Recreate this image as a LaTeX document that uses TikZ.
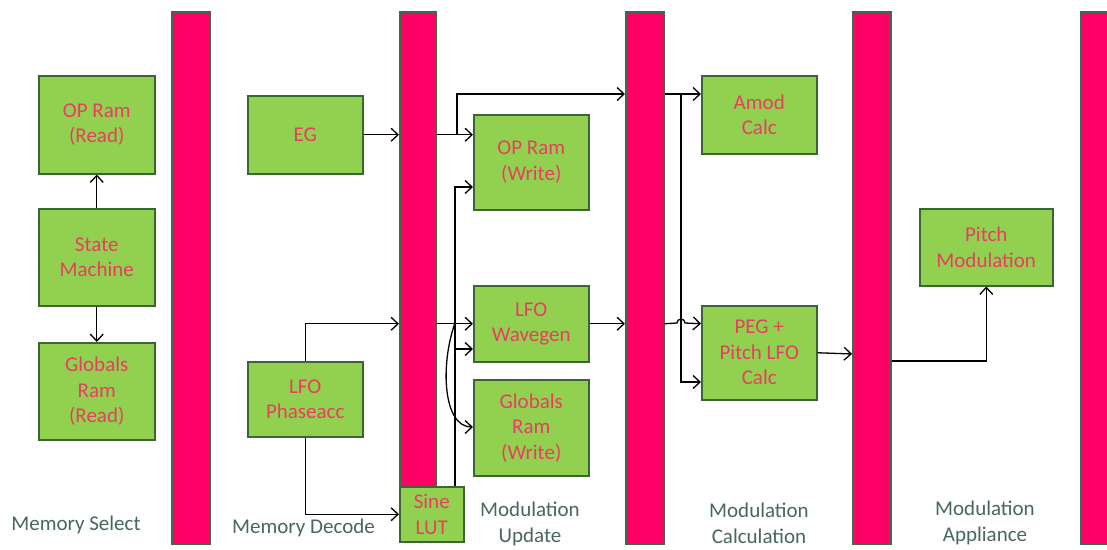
\documentclass[tikz,border=0pt]{standalone}
\usepackage{fontspec}
\setmainfont{Carlito}
\usetikzlibrary{arrows.meta}
\definecolor{boxfill}{HTML}{92D050}
\definecolor{boxline}{HTML}{3B6535}
\definecolor{barfill}{HTML}{FF0066}
\definecolor{barline}{HTML}{3F6A48}
\definecolor{boxtext}{RGB}{232,62,96}
\definecolor{labeltext}{RGB}{72,104,88}
\begin{document}
\begin{tikzpicture}[x=1pt,y=-1pt,
  blk/.style={draw=boxline, line width=1.5pt, fill=boxfill, text=boxtext, align=center,
    font=\fontsize{21}{25.5}\selectfont, inner sep=0pt, anchor=north west},
  barbox/.style={draw=barline, line width=1.5pt, fill=barfill, inner sep=0pt, anchor=north west, minimum width=38pt},
  lbl/.style={text=labeltext, align=center, font=\fontsize{21}{26}\selectfont, inner sep=0pt},
  arr/.style={draw=black, line width=1.3pt, -{Straight Barb[length=7pt,width=13pt]}}
]
\clip (0,0) rectangle (1107,549);
\fill[white] (0,0) rectangle (1107,549);

% pipeline bars
\node[barbox, minimum height=532pt] (b1) at (171,11) {};
\node[barbox, minimum width=36pt, minimum height=475pt] (b2) at (399,11) {};
\node[barbox, minimum height=532pt] (b3) at (625,11) {};
\node[barbox, minimum height=532pt] (b4) at (852,11) {};
\node[barbox, minimum height=532pt] (b5) at (1080,11) {};

% blocks
\node[blk, minimum width=116pt, minimum height=98pt] (opr) at (38,75) {OP Ram\\(Read)};
\node[blk, minimum width=116pt, minimum height=97pt] (sm) at (38,208) {State\\Machine};
\node[blk, minimum width=116pt, minimum height=97pt] (grr) at (38,342) {Globals\\Ram\\(Read)};
\node[blk, minimum width=115pt, minimum height=78pt] (eg) at (247,95) {EG};
\node[blk, minimum width=115pt, minimum height=75pt] (lfop) at (247,361) {LFO\\Phaseacc};
\node[blk, minimum width=64pt, minimum height=55pt] (sine) at (399,486) {Sine\\LUT};
\node[blk, minimum width=115pt, minimum height=95pt] (opw) at (473,114) {OP Ram\\(Write)};
\node[blk, minimum width=115pt, minimum height=76pt] (lfow) at (473,285) {LFO\\Wavegen};
\node[blk, minimum width=115pt, minimum height=96pt] (grw) at (473,379) {Globals\\Ram\\(Write)};
\node[blk, minimum width=115pt, minimum height=78pt] (amod) at (701,75) {Amod\\Calc};
\node[blk, minimum width=115pt, minimum height=94pt] (peg) at (701,305) {PEG +\\Pitch LFO\\Calc};
\node[blk, minimum width=133pt, minimum height=77pt] (pm) at (919,208) {Pitch\\Modulation};

% stage labels
\node[lbl] (l1) at (76,525) {Memory Select};
\node[lbl] (l2) at (303.5,528) {Memory Decode};
\node[lbl] (l3) at (530,524) {Modulation\\Update};
\node[lbl] (l4) at (759,523) {Modulation\\Calculation};
\node[lbl] (l5) at (985,523) {Modulation\\Appliance};

% helper coordinates
\coordinate (ya) at (0,94);
\coordinate (j1) at (457,134);
\coordinate (j2) at (457,94);
\coordinate (s1) at (455,486);
\coordinate (s2) at (455,349);
\coordinate (s3) at (455,323);
\coordinate (yo) at (0,187);
\coordinate (yg) at (0,427);
\coordinate (k1) at (681,94);
\coordinate (h1) at (677,323);
\coordinate (yp) at (0,382);
\coordinate (yb) at (0,354);
\coordinate (yq) at (0,361);

% memory select
\draw[arr] (sm.north) -- (opr.south);
\draw[arr] (sm.south) -- (grr.north);

% memory decode
\draw[arr] (eg.east) -- (eg.east -| b2.west);
\draw[arr] (lfop.north) |- (b2.west |- lfow.west);
\draw[arr] (lfop.south) |- (sine.west);

% modulation update
\draw[arr] (eg.east -| b2.east) -- (eg.east -| opw.west);
\draw[arr] (j1) -- (j2) -- (j2 -| b3.west);
\draw[arr] (b2.east |- lfow.west) -- (lfow.west);
\draw[arr] (s1) |- (opw.west |- yo);
\draw[arr] (s2) -- (s2 -| lfow.west);
\draw[arr] (s3) .. controls (440,365) and (443,427) .. (grw.west |- yg);
\draw[arr] (lfow.east) -- (lfow.east -| b3.west);

% modulation calculation
\draw[arr] (b3.east |- ya) -- (amod.west |- ya);
\draw[arr] (k1) |- (peg.west |- yp);
\draw[arr] (b3.east |- lfow.east) -- (h1) arc (180:360:4) -- (peg.west |- lfow.east);
\draw[arr] (peg.east) -- (b4.west |- yb);

% modulation appliance
\draw[arr] (b4.east |- yq) -| (pm.south);
\end{tikzpicture}
\end{document}
